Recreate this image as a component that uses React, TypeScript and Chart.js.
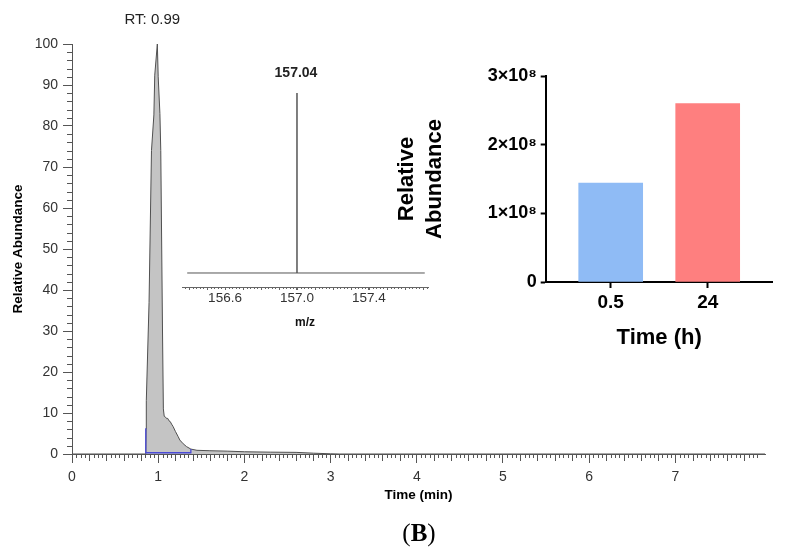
import React, { useEffect, useRef } from "react";
import { Chart, registerables } from "chart.js";

Chart.register(...registerables);

const FONT = "'Liberation Sans', Arial, sans-serif";

// ---- Main chromatogram (Time (min) vs Relative Abundance) ----
const timeMin = [0, 0.8, 0.856, 0.86, 0.862, 0.894, 0.922, 0.95, 0.96, 0.99, 1.0, 1.02, 1.03, 1.05, 1.06, 1.07, 1.085, 1.1, 1.11, 1.125, 1.14, 1.155, 1.173, 1.2, 1.23, 1.251, 1.29, 1.329, 1.379, 1.45, 1.6, 1.8, 2.0, 2.3, 2.6, 2.8, 3.0, 3.1, 8.04];
const relAbundance = [0, 0, 0, 6, 13, 37, 74, 82.7, 92.4, 100, 92, 83, 74, 30, 11, 9.2, 9.0, 8.6, 8.7, 8.1, 7.9, 7.3, 6.7, 5.5, 4.3, 3.4, 2.5, 1.8, 1.2, 0.9, 0.8, 0.7, 0.55, 0.45, 0.4, 0.2, 0.05, 0, 0];
const integTime = [0.856, 0.856, 1.379, 1.379];
const integLevel = [6.3, 0.3, 0.3, 1.2];
const peakRT = 0.99;
const timeTicks = [0, 1, 2, 3, 4, 5, 6, 7];
const timeMax = 8.04;

// ---- Inset mass spectrum ----
const mzValues = [156.39, 157.0, 157.0, 157.0, 157.71];
const mzIntensity = [0, 0, 100, 0, 0];
const mzPeakLabel = "157.04";
const mzTicks = [156.6, 157.0, 157.4];
const mzMin = 156.361;
const mzMax = 157.728;

// ---- Inset bar chart ----
const barCategories = ["0.5", "24"];
const barValues = [1.44e8, 2.6e8];
const barColors = ["#8fbbf5", "#fe7f7f"];
const barYTicks = [0, 1e8, 2e8, 3e8];

function fmtSci(v: number) {
  if (v === 0) return "0";
  return `${Math.round(v / 1e8)}\u00d710\u2078`;
}

export default function App() {
  const mainRef = useRef<HTMLCanvasElement>(null);
  const specRef = useRef<HTMLCanvasElement>(null);
  const barRef = useRef<HTMLCanvasElement>(null);

  useEffect(() => {
    const charts: Chart[] = [];

    // ---------- main ----------
    const mainExtras = {
      id: "mainExtras",
      afterDraw(chart: any) {
        const { ctx, chartArea } = chart;
        const x = chart.scales.x;
        const y = chart.scales.y;
        ctx.save();
        ctx.strokeStyle = "#555";
        ctx.lineWidth = 1;
        ctx.beginPath();
        for (let i = 1; i * 0.05 <= x.max + 1e-9; i++) {
          if (i % 20 === 0) continue;
          const px = Math.round(x.getPixelForValue(i * 0.05)) + 0.5;
          const len = i % 4 === 0 ? 7 : 4;
          ctx.moveTo(px, chartArea.bottom);
          ctx.lineTo(px, chartArea.bottom + len);
        }
        for (let v = 2; v < 100; v += 2) {
          if (v % 10 === 0) continue;
          const py = Math.round(y.getPixelForValue(v)) + 0.5;
          ctx.moveTo(chartArea.left - 5, py);
          ctx.lineTo(chartArea.left, py);
        }
        ctx.stroke();
        ctx.font = `15px ${FONT}`;
        ctx.fillStyle = "#222";
        ctx.textAlign = "center";
        ctx.textBaseline = "middle";
        ctx.fillText(`RT: ${peakRT.toFixed(2)}`, x.getPixelForValue(peakRT) - 5, 20);
        ctx.restore();
      },
    };

    if (mainRef.current) {
      charts.push(
        new Chart(mainRef.current, {
          type: "line",
          data: {
            datasets: [
              {
                data: timeMin.map((t, i) => ({ x: t, y: relAbundance[i] })),
                borderColor: "#505050",
                borderWidth: 1,
                backgroundColor: "#c4c4c4",
                fill: "origin",
                pointRadius: 0,
                tension: 0,
                order: 2,
              },
              {
                data: integTime.map((t, i) => ({ x: t, y: integLevel[i] })),
                borderColor: "#4a4ad6",
                borderWidth: 1.3,
                fill: false,
                pointRadius: 0,
                tension: 0,
                order: 1,
              },
            ],
          },
          options: {
            animation: false,
            responsive: false,
            devicePixelRatio: 1,
            layout: { padding: { left: 0, top: 44, right: 20, bottom: 557 - 454 - 50 } },
            plugins: { legend: { display: false }, tooltip: { enabled: false } },
            scales: {
              x: {
                type: "linear",
                min: 0,
                max: timeMax,
                afterBuildTicks: (s: any) => {
                  s.ticks = timeTicks.map((v) => ({ value: v }));
                },
                afterFit: (s: any) => {
                  s.height = 50;
                },
                ticks: {
                  font: { family: FONT, size: 14 },
                  color: "#333",
                  padding: 5.3,
                  maxRotation: 0,
                  autoSkip: false,
                  callback: (v: any) => String(v),
                },
                grid: { drawOnChartArea: false, drawTicks: true, tickLength: 9, tickColor: "#555" },
                border: { display: true, color: "#555", width: 1 },
                title: {
                  display: true,
                  text: "Time (min)",
                  font: { family: FONT, size: 13.5, weight: "bold" },
                  color: "#000",
                  padding: { top: 0, bottom: 0.9 },
                },
              },
              y: {
                type: "linear",
                min: 0,
                max: 100,
                afterFit: (s: any) => {
                  s.width = 72;
                },
                ticks: {
                  stepSize: 10,
                  font: { family: FONT, size: 14 },
                  color: "#333",
                  padding: 5,
                },
                grid: { drawOnChartArea: false, drawTicks: true, tickLength: 9, tickColor: "#555" },
                border: { display: true, color: "#555", width: 1 },
                title: {
                  display: true,
                  text: "Relative Abundance",
                  font: { family: FONT, size: 13.5, weight: "bold" },
                  color: "#000",
                  padding: { top: 9.9, bottom: 0 },
                },
              },
            },
          },
          plugins: [mainExtras],
        } as any)
      );
    }

    // ---------- spectrum ----------
    const specExtras = {
      id: "specExtras",
      afterDraw(chart: any) {
        const { ctx, chartArea } = chart;
        const x = chart.scales.x;
        const y = chart.scales.y;
        ctx.save();
        ctx.strokeStyle = "#666";
        ctx.lineWidth = 1;
        ctx.beginPath();
        const start = Math.ceil(x.min / 0.02);
        for (let i = start; i * 0.02 <= x.max; i++) {
          const px = Math.round(x.getPixelForValue(i * 0.02)) + 0.5;
          const len = i % 5 === 0 ? 3 : 2;
          ctx.moveTo(px, chartArea.bottom);
          ctx.lineTo(px, chartArea.bottom + len);
        }
        ctx.stroke();
        let peakIdx = 0;
        mzIntensity.forEach((v, i) => {
          if (v > mzIntensity[peakIdx]) peakIdx = i;
        });
        ctx.font = `bold 14px ${FONT}`;
        ctx.fillStyle = "#222";
        ctx.textAlign = "center";
        ctx.textBaseline = "middle";
        ctx.fillText(mzPeakLabel, x.getPixelForValue(mzValues[peakIdx]) - 1, y.getPixelForValue(mzIntensity[peakIdx]) - 20);
        ctx.restore();
      },
    };

    if (specRef.current) {
      charts.push(
        new Chart(specRef.current, {
          type: "line",
          data: {
            datasets: [
              {
                data: mzValues.map((m, i) => ({ x: m, y: mzIntensity[i] })),
                borderColor: "#555",
                borderWidth: 1,
                fill: false,
                pointRadius: 0,
                tension: 0,
              },
            ],
          },
          options: {
            animation: false,
            responsive: false,
            devicePixelRatio: 1,
            layout: { padding: { left: 12, top: 43, right: 12, bottom: 0 } },
            plugins: { legend: { display: false }, tooltip: { enabled: false } },
            scales: {
              x: {
                type: "linear",
                min: mzMin,
                max: mzMax,
                afterBuildTicks: (s: any) => {
                  s.ticks = mzTicks.map((v) => ({ value: v }));
                },
                afterFit: (s: any) => {
                  s.height = 53;
                },
                ticks: {
                  font: { family: FONT, size: 13.5 },
                  color: "#333",
                  padding: 0,
                  maxRotation: 0,
                  autoSkip: false,
                  callback: (v: any) => Number(v).toFixed(1),
                },
                grid: { drawOnChartArea: false, drawTicks: true, tickLength: 3, tickColor: "#666" },
                border: { display: true, color: "#666", width: 1 },
                title: {
                  display: true,
                  text: "m/z",
                  font: { family: FONT, size: 12, weight: "bold" },
                  color: "#111",
                  padding: { top: 0, bottom: 10 },
                },
              },
              y: { display: false, min: -7.78, max: 100 },
            },
          },
          plugins: [specExtras],
        } as any)
      );
    }

    // ---------- bar ----------
    if (barRef.current) {
      charts.push(
        new Chart(barRef.current, {
          type: "bar",
          data: {
            datasets: [
              {
                data: barValues.map((v, i) => ({ x: i, y: v })),
                backgroundColor: barColors,
                borderWidth: 0,
                barThickness: 64,
              },
            ],
          },
          options: {
            animation: false,
            responsive: false,
            devicePixelRatio: 1,
            layout: { padding: { left: 0, top: 36, right: 12.3, bottom: 0 } },
            plugins: { legend: { display: false }, tooltip: { enabled: false } },
            scales: {
              x: {
                type: "linear",
                min: -0.67,
                max: barCategories.length - 1 + 0.67,
                offset: false,
                afterBuildTicks: (s: any) => {
                  s.ticks = barCategories.map((_, i) => ({ value: i }));
                },
                afterFit: (s: any) => {
                  s.height = 78;
                },
                ticks: {
                  font: { family: FONT, size: 19, weight: "bold" },
                  color: "#000",
                  padding: 3.3,
                  maxRotation: 0,
                  autoSkip: false,
                  callback: (v: any) => barCategories[Math.round(Number(v))] ?? "",
                },
                grid: { offset: false, drawOnChartArea: false, drawTicks: true, tickLength: 6, tickColor: "#000", tickWidth: 2 },
                border: { display: true, color: "#000", width: 2 },
                title: {
                  display: true,
                  text: "Time (h)",
                  font: { family: FONT, size: 22, weight: "bold" },
                  color: "#000",
                  padding: { top: 0, bottom: 8.8 },
                },
              },
              y: {
                type: "linear",
                min: 0,
                max: 3e8,
                afterBuildTicks: (s: any) => {
                  s.ticks = barYTicks.map((v) => ({ value: v }));
                },
                afterFit: (s: any) => {
                  s.width = 165.7;
                },
                ticks: {
                  font: { family: FONT, size: 18, weight: "bold" },
                  color: "#000",
                  padding: 4,
                  callback: (v: any) => fmtSci(Number(v)),
                },
                grid: { drawOnChartArea: false, drawTicks: true, tickLength: 5, tickColor: "#000", tickWidth: 2 },
                border: { display: true, color: "#000", width: 2 },
                title: {
                  display: true,
                  text: ["Relative", "Abundance"],
                  font: { family: FONT, size: 22, weight: "bold", lineHeight: 1.27 },
                  color: "#000",
                  padding: { top: 12.7, bottom: 0 },
                },
              },
            },
          },
        } as any)
      );
    }

    return () => {
      charts.forEach((c) => c.destroy());
    };
  }, []);

  return (
    <div style={{ position: "absolute", left: 0, top: 0, width: 785, height: 557, background: "#fff", overflow: "hidden" }}>
      <canvas ref={mainRef} width={785} height={557} style={{ position: "absolute", left: 0, top: 0, width: 785, height: 557 }} />
      <canvas ref={specRef} width={270} height={290} style={{ position: "absolute", left: 170, top: 50, width: 270, height: 290 }} />
      <canvas ref={barRef} width={405} height={320} style={{ position: "absolute", left: 380, top: 40, width: 405, height: 320 }} />
      <div
        style={{
          position: "absolute",
          left: 0,
          width: 838,
          top: 520,
          textAlign: "center",
          fontFamily: "'Liberation Serif', 'Times New Roman', serif",
          fontSize: 25,
          lineHeight: "25px",
          color: "#000",
        }}
      >
        (<b>B</b>)
      </div>
    </div>
  );
}
